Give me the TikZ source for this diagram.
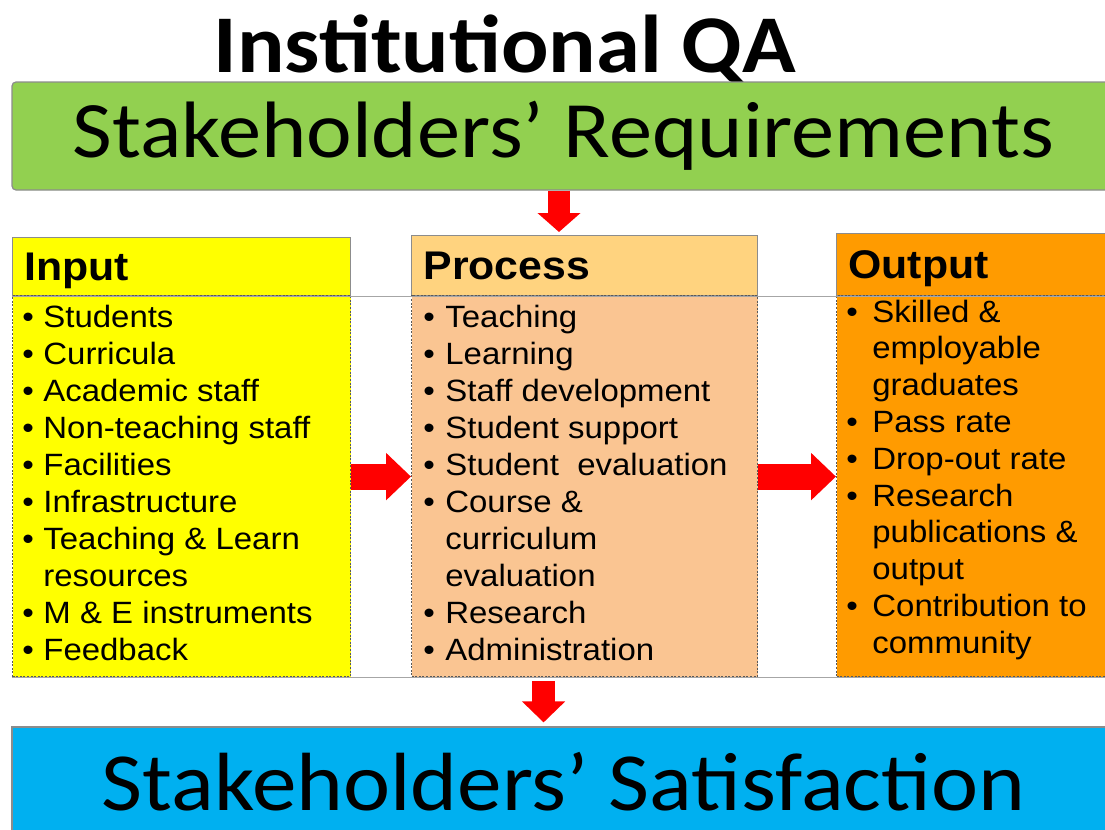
\documentclass[tikz,border=0pt]{standalone}
\usepackage{fontspec}
\setsansfont[FakeStretch=1.07]{Liberation Sans}
\newfontfamily\calfont[FakeStretch=1.08]{Carlito}
\usetikzlibrary{arrows.meta}

\definecolor{reqgreen}{HTML}{92D050}
\definecolor{inyellow}{HTML}{FFFF00}
\definecolor{prheadcol}{HTML}{FFD37F}
\definecolor{prbodycol}{HTML}{FAC592}
\definecolor{outorange}{HTML}{FF9B00}
\definecolor{satblue}{HTML}{00B0F0}
\definecolor{flowred}{HTML}{FF0000}

% bullet hanging left of the item text
\newcommand{\bulgap}{5pt}
\newcommand{\bul}{\llap{\textbullet\hspace{\bulgap}}}

\tikzset{
  banner/.style={draw=black!45, line width=0.6pt, minimum width=551.5pt, inner sep=0pt,
    font=\calfont\fontsize{40}{48}\selectfont},
  colhead/.style={draw=black!45, line width=0.5pt, anchor=north west, inner xsep=6pt,
    inner ysep=0pt, text depth=0pt, align=left, font=\sffamily\bfseries\fontsize{20}{24}\selectfont},
  colbody/.style={draw=black!65, line width=0.6pt, dash pattern=on 1pt off 0.8pt,
    anchor=north west, inner sep=0pt, minimum height=190.5pt},
  item/.style={anchor=base west, inner sep=0pt, font=\sffamily\fontsize{15.4}{18}\selectfont},
  flow/.style={flowred, line width=13pt, -{Triangle[length=12.5pt, width=23pt]}},
  gridline/.style={black!35, line width=0.5pt},
}

\begin{document}
\begin{tikzpicture}[x=0.5pt, y=-0.5pt]
  \useasboundingbox (0,0) rectangle (1105,830);

  % title and the two banners
  \node[font=\calfont\bfseries\fontsize{41}{48}\selectfont, anchor=base] (title) at (505,72) {Institutional QA};
  \node[banner, fill=reqgreen, rounded corners=2pt, minimum height=54pt] (req) at (563.5,136) {Stakeholders’ Requirements};
  \node[banner, fill=satblue, minimum height=55pt, font=\calfont\fontsize{41.3}{48}\selectfont] (sat) at (563.5,782) {Stakeholders’ Satisfaction};

  % the three columns
  \node[colhead, fill=inyellow, text width=157pt, minimum height=29pt] (inhead) at (12,237) {Input};
  \node[colbody, fill=inyellow, minimum width=169pt] (inbody) at (12,295) {};
  \node[colhead, fill=prheadcol, text width=161pt, minimum height=30pt] (prhead) at (411,235) {Process};
  \node[colbody, fill=prbodycol, minimum width=173pt] (prbody) at (411,295) {};
  \node[colhead, fill=outorange, text width=127.5pt, minimum height=31pt] (outhead) at (836,233) {Output};
  \node[colbody, fill=outorange, minimum width=139.5pt] (outbody) at (836,295) {};

  \draw[gridline] (inhead.south west) -- (outhead.south east);
  \draw[gridline] (inbody.south west) -- (outbody.south east);

  % list items
  \renewcommand{\bulgap}{4.8pt}
  \foreach \txt [count=\i] in {\bul Students, \bul Curricula, \bul Academic staff,
      \bul Non-teaching staff, \bul Facilities, \bul Infrastructure,
      \bul Teaching \& Learn, resources, \bul M \& E instruments, \bul Feedback}
    \node[item] (in\i) at (43,{327+37*(\i-1)}) {\txt};

  \renewcommand{\bulgap}{5.3pt}
  \foreach \txt [count=\i] in {\bul Teaching, \bul Learning, \bul Staff development,
      \bul Student support, \bul Student~ evaluation, \bul Course \&, curriculum,
      evaluation, \bul Research, \bul Administration}
    \node[item] (pr\i) at (445,{327+37*(\i-1)}) {\txt};

  \renewcommand{\bulgap}{7.3pt}
  \foreach \txt [count=\i] in {\bul Skilled \&, employable, graduates, \bul Pass rate,
      \bul Drop-out rate, \bul Research, publications \&, output,
      \bul Contribution to, community}
    \node[item] (out\i) at (872,{322+36.8*(\i-1)}) {\txt};

  % flow arrows
  \coordinate (up) at ([xshift=-2.25pt]req.south);
  \coordinate (dn) at ([xshift=-20.5pt]prbody.south);
  \draw[flow, line width=11pt, -{Triangle[length=9.5pt, width=21pt]}, shorten >=1.5pt] (up) -- (up |- prhead.north);
  \draw[flow] ([yshift=4.75pt]inbody.east) -- ([yshift=4.75pt]prbody.west);
  \draw[flow] ([yshift=4.75pt]prbody.east) -- ([yshift=4.75pt]outbody.west);
  \draw[flow, line width=11.5pt, -{Triangle[length=10.5pt, width=21pt]}, shorten <=2pt, shorten >=2pt] (dn) -- (dn |- sat.north);
\end{tikzpicture}
\end{document}
